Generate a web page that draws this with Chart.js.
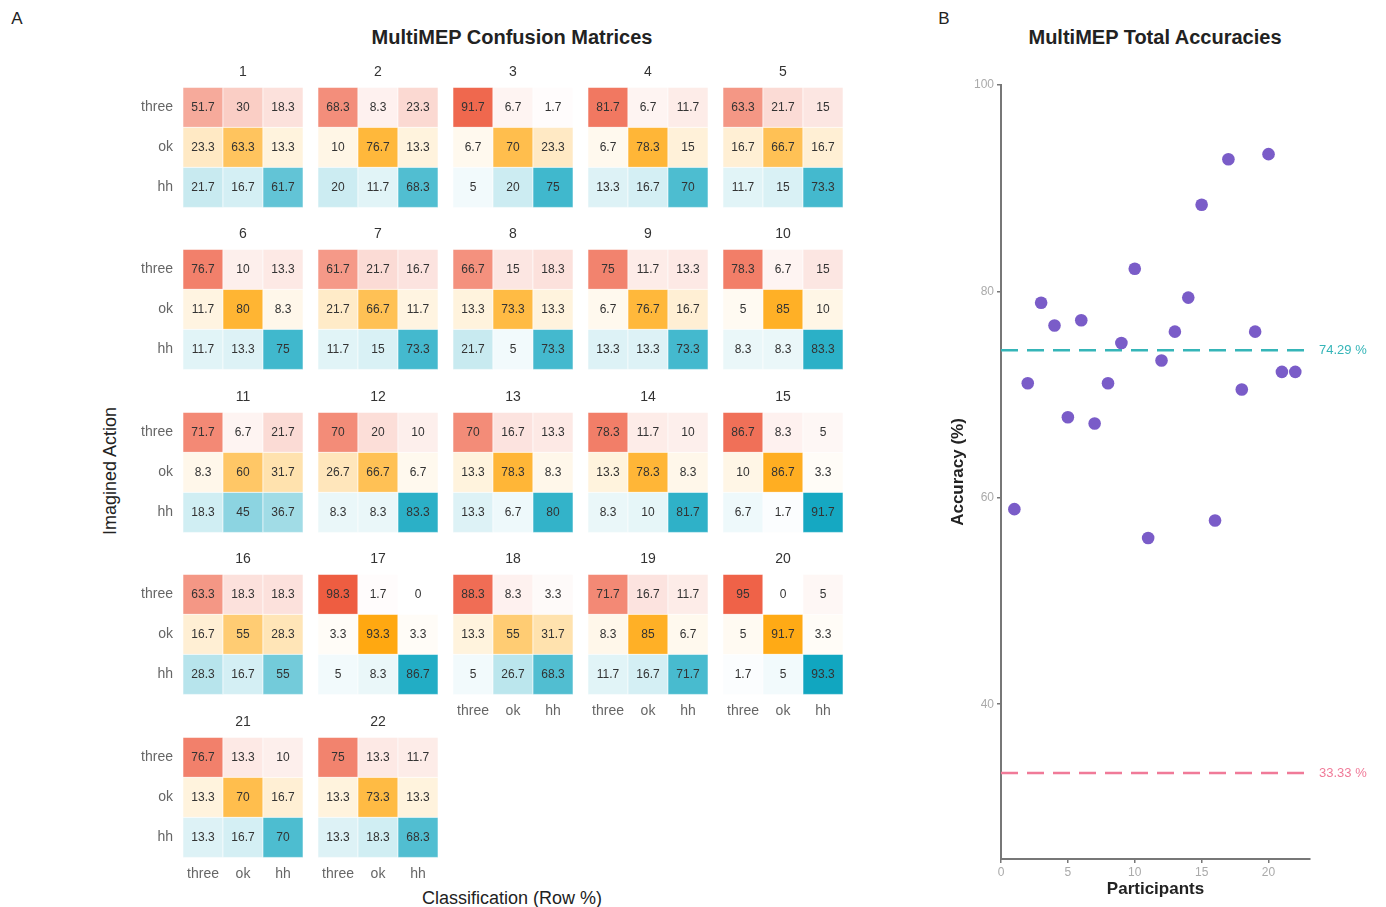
<!DOCTYPE html>
<html>
<head>
<meta charset="utf-8">
<script src="https://cdn.jsdelivr.net/npm/chart.js@4.4.1/dist/chart.umd.min.js"></script>
<style>
  body { margin: 0; background: #fff; font-family: "Liberation Sans", Arial, sans-serif; }
  #page { position: relative; width: 1386px; height: 907px; overflow: hidden; }
  #page canvas { position: absolute; }
  .txt { position: absolute; white-space: nowrap; color: #222; transform: translate(-50%, -50%); }
</style>
</head>
<body>
<div id="page">
  <div class="txt" style="left:17px;top:19px;font-size:17px;">A</div>
  <div class="txt" style="left:944px;top:19px;font-size:17px;">B</div>
  <div class="txt" style="left:512px;top:37px;font-size:20px;font-weight:bold;">MultiMEP Confusion Matrices</div>
  <div class="txt" style="left:1155px;top:37px;font-size:20px;font-weight:bold;">MultiMEP Total Accuracies</div>
  <div class="txt" style="left:110px;top:471px;font-size:18px;transform:translate(-50%,-50%) rotate(-90deg);">Imagined Action</div>
  <div class="txt" style="left:512px;top:898px;font-size:18px;">Classification (Row %)</div>
</div>
<script>
const actions = ["three", "ok", "hh"];
const classes = ["three", "ok", "hh"];

// row % per participant: rows = imagined action, columns = classification
const p1 = [[51.7, 30, 18.3], [23.3, 63.3, 13.3], [21.7, 16.7, 61.7]];
const p2 = [[68.3, 8.3, 23.3], [10, 76.7, 13.3], [20, 11.7, 68.3]];
const p3 = [[91.7, 6.7, 1.7], [6.7, 70, 23.3], [5, 20, 75]];
const p4 = [[81.7, 6.7, 11.7], [6.7, 78.3, 15], [13.3, 16.7, 70]];
const p5 = [[63.3, 21.7, 15], [16.7, 66.7, 16.7], [11.7, 15, 73.3]];
const p6 = [[76.7, 10, 13.3], [11.7, 80, 8.3], [11.7, 13.3, 75]];
const p7 = [[61.7, 21.7, 16.7], [21.7, 66.7, 11.7], [11.7, 15, 73.3]];
const p8 = [[66.7, 15, 18.3], [13.3, 73.3, 13.3], [21.7, 5, 73.3]];
const p9 = [[75, 11.7, 13.3], [6.7, 76.7, 16.7], [13.3, 13.3, 73.3]];
const p10 = [[78.3, 6.7, 15], [5, 85, 10], [8.3, 8.3, 83.3]];
const p11 = [[71.7, 6.7, 21.7], [8.3, 60, 31.7], [18.3, 45, 36.7]];
const p12 = [[70, 20, 10], [26.7, 66.7, 6.7], [8.3, 8.3, 83.3]];
const p13 = [[70, 16.7, 13.3], [13.3, 78.3, 8.3], [13.3, 6.7, 80]];
const p14 = [[78.3, 11.7, 10], [13.3, 78.3, 8.3], [8.3, 10, 81.7]];
const p15 = [[86.7, 8.3, 5], [10, 86.7, 3.3], [6.7, 1.7, 91.7]];
const p16 = [[63.3, 18.3, 18.3], [16.7, 55, 28.3], [28.3, 16.7, 55]];
const p17 = [[98.3, 1.7, 0], [3.3, 93.3, 3.3], [5, 8.3, 86.7]];
const p18 = [[88.3, 8.3, 3.3], [13.3, 55, 31.7], [5, 26.7, 68.3]];
const p19 = [[71.7, 16.7, 11.7], [8.3, 85, 6.7], [11.7, 16.7, 71.7]];
const p20 = [[95, 0, 5], [5, 91.7, 3.3], [1.7, 5, 93.3]];
const p21 = [[76.7, 13.3, 10], [13.3, 70, 16.7], [13.3, 16.7, 70]];
const p22 = [[75, 13.3, 11.7], [13.3, 73.3, 13.3], [13.3, 18.3, 68.3]];
const matrices = [p1, p2, p3, p4, p5, p6, p7, p8, p9, p10, p11, p12, p13, p14, p15, p16, p17, p18, p19, p20, p21, p22];

const participants = [1, 2, 3, 4, 5, 6, 7, 8, 9, 10, 11, 12, 13, 14, 15, 16, 17, 18, 19, 20, 21, 22];
const accuracy = [58.9, 71.1, 78.9, 76.7, 67.8, 77.2, 67.2, 71.1, 75.0, 82.2, 56.1, 73.3, 76.1, 79.4, 88.4, 57.8, 92.8, 70.5, 76.1, 93.3, 72.2, 72.2];
const refValues = [74.29, 33.33];
const refLabels = ["74.29 %", "33.33 %"];

const FONT = '"Liberation Sans", Arial, sans-serif';
Chart.defaults.font.family = FONT;

const page = document.getElementById("page");

// full colour for each imagined-action row at 100 %
const rowColors = [[238, 90, 62], [255, 162, 0], [0, 160, 188]];
function cellColor(raw) {
  const t = raw.v / 100;
  const b = rowColors[raw.row];
  const mix = (k) => Math.round(255 - t * (255 - b[k]));
  return "rgb(" + mix(0) + "," + mix(1) + "," + mix(2) + ")";
}

function cellRadius(c) {
  const a = c.chart.chartArea;
  const w = a ? (a.right - a.left) / classes.length : 40;
  return w / Math.SQRT2;
}

const cellText = {
  id: "cellText",
  afterDatasetsDraw(chart) {
    const ctx = chart.ctx;
    const ds = chart.data.datasets[0].data;
    ctx.save();
    ctx.font = "12px " + FONT;
    ctx.fillStyle = "#333";
    ctx.textAlign = "center";
    ctx.textBaseline = "middle";
    chart.getDatasetMeta(0).data.forEach((pt, i) => {
      ctx.fillText(String(ds[i].v), pt.x, pt.y);
    });
    ctx.restore();
  },
};

function matrixChart(k) {
  const col = k % 5;
  const row = Math.floor(k / 5);
  const canvas = document.createElement("canvas");
  canvas.width = 180;
  canvas.height = 172;
  canvas.style.left = 183 + 135 * col - 60 + "px";
  canvas.style.top = 87 + 162.5 * row - 23.4 + "px";
  page.appendChild(canvas);

  const m = matrices[k];
  const points = [];
  actions.forEach((a, i) => {
    classes.forEach((cl, j) => {
      points.push({ x: cl, y: a, v: m[i][j], row: i });
    });
  });

  new Chart(canvas, {
    type: "scatter",
    data: {
      datasets: [
        {
          data: points,
          pointStyle: "rect",
          pointRadius: cellRadius,
          pointBackgroundColor: (c) => cellColor(c.raw),
          pointBorderColor: "rgba(255,255,255,0.7)",
          pointBorderWidth: 0.8,
          clip: false,
        },
      ],
    },
    options: {
      responsive: false,
      animation: false,
      events: [],
      layout: { autoPadding: false, padding: 0 },
      plugins: {
        legend: { display: false },
        tooltip: { enabled: false },
        title: {
          display: true,
          fullSize: false,
          text: String(k + 1),
          color: "#333",
          font: { size: 14, weight: "normal" },
          padding: { top: 0, bottom: 6.6 },
        },
      },
      scales: {
        x: {
          type: "category",
          labels: classes,
          offset: true,
          grid: { display: false, drawTicks: false },
          border: { display: false },
          ticks: { display: k >= 17, color: "#666", font: { size: 14 }, padding: 8.5 },
          afterFit: (s) => { s.height = 28.6; },
        },
        y: {
          type: "category",
          labels: actions,
          offset: true,
          grid: { display: false, drawTicks: false },
          border: { display: false },
          ticks: { display: col === 0, color: "#666", font: { size: 14 }, padding: 10 },
          afterFit: (s) => { s.width = 60; },
        },
      },
    },
    plugins: [cellText],
  });
}

matrices.forEach((m, k) => matrixChart(k));

// panel B
const refColors = ["#35b5b8", "#f07a98"];
const refLines = {
  id: "refLines",
  beforeDatasetsDraw(chart) {
    const ctx = chart.ctx;
    const a = chart.chartArea;
    const y = chart.scales.y;
    ctx.save();
    refValues.forEach((v, i) => {
      const py = y.getPixelForValue(v);
      ctx.strokeStyle = refColors[i];
      ctx.lineWidth = 2.5;
      ctx.setLineDash([17, 9]);
      ctx.beginPath();
      ctx.moveTo(a.left, py);
      ctx.lineTo(a.right, py);
      ctx.stroke();
      ctx.font = "13px " + FONT;
      ctx.fillStyle = refColors[i];
      ctx.textAlign = "left";
      ctx.textBaseline = "middle";
      ctx.fillText(refLabels[i], a.right + 9, py);
    });
    ctx.restore();
  },
};

const cb = document.createElement("canvas");
cb.width = 446;
cb.height = 857;
cb.style.left = "940px";
cb.style.top = "50px";
page.appendChild(cb);

new Chart(cb, {
  type: "scatter",
  data: {
    datasets: [
      {
        data: participants.map((p, i) => ({ x: p, y: accuracy[i] })),
        pointRadius: 6.3,
        pointBackgroundColor: "#7a5cc8",
        pointBorderWidth: 0,
      },
    ],
  },
  options: {
    responsive: false,
    animation: false,
    events: [],
    layout: { autoPadding: false, padding: { top: 35, right: 76, left: 0, bottom: 0 } },
    plugins: { legend: { display: false }, tooltip: { enabled: false } },
    scales: {
      x: {
        type: "linear",
        min: 0,
        max: 23.1,
        ticks: { stepSize: 5, includeBounds: false, color: "#aaa", font: { size: 12 }, padding: 2 },
        grid: { drawOnChartArea: false, tickLength: 4, color: "#777", lineWidth: 1.5 },
        border: { color: "#777", width: 2 },
        title: { display: true, text: "Participants", color: "#222", font: { size: 17, weight: "bold" }, padding: { top: 0, bottom: 7 } },
        afterFit: (s) => { s.height = 48; },
      },
      y: {
        type: "linear",
        min: 25,
        max: 100,
        ticks: { stepSize: 20, includeBounds: false, color: "#aaa", font: { size: 12 }, padding: 3 },
        grid: { drawOnChartArea: false, tickLength: 4, color: "#777", lineWidth: 1.5 },
        border: { color: "#777", width: 2 },
        title: { display: true, text: "Accuracy (%)", color: "#222", font: { size: 17, weight: "bold" }, padding: { top: 8, bottom: 0 } },
        afterFit: (s) => { s.width = 61; },
      },
    },
  },
  plugins: [refLines],
});
</script>
</body>
</html>
